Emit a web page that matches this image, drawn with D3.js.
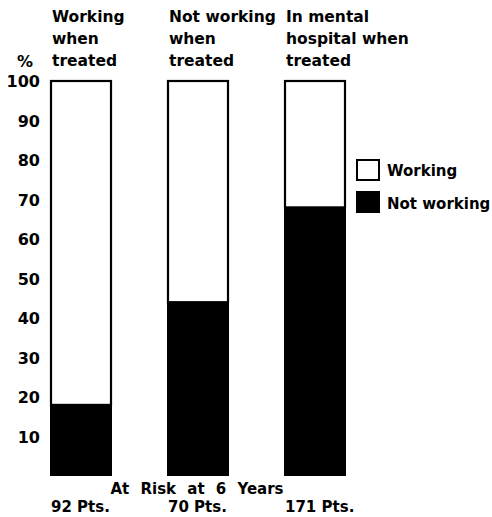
<!DOCTYPE html>
<html><head><meta charset="utf-8">
<script src="https://cdn.jsdelivr.net/npm/d3@7"></script>
<style>body{margin:0;background:#fff}svg{display:block}text{font-family:"DejaVu Sans",sans-serif;font-weight:bold;fill:#000}</style>
</head><body><svg id="c" width="492" height="517"></svg>
<script>
const categories = [["Working","when","treated"],["Not working","when","treated"],["In mental","hospital when","treated"]];
const notWorking = [18, 44, 68];
const working = [82, 56, 32];
const patients = ["92 Pts.", "70 Pts.", "171 Pts."];
const yTicks = [10,20,30,40,50,60,70,80,90,100];
const legendLabels = ["Working","Not working"];

const svg = d3.select("#c");
const y = d3.scaleLinear().domain([0,100]).range([476,81]);
const x = d3.scalePoint().domain([0,1,2]).range([51,285]);
const bw = 60;

const stack = categories.map((c,i)=>({i, nw:notWorking[i], w:working[i]}));
const g = svg.append("g");
stack.forEach(d=>{
  g.append("rect").attr("x",x(d.i)).attr("width",bw)
    .attr("y",y(d.nw+d.w)).attr("height",y(d.nw)-y(d.nw+d.w))
    .attr("fill","#fff").attr("stroke","#000").attr("stroke-width",2.2);
  g.append("rect").attr("x",x(d.i)-1).attr("width",bw+2)
    .attr("y",y(d.nw)).attr("height",y(0)-y(d.nw)).attr("fill","#000");
});

// y axis labels
svg.append("g").selectAll("text").data(yTicks).join("text")
  .attr("x",40).attr("y",d=>y(d)+6).attr("text-anchor","end")
  .attr("font-size",16).text(d=>d);
svg.append("text").attr("x",17).attr("y",67).attr("font-size",16).text("%");

// category labels
categories.forEach((lines,i)=>{
  const t = svg.append("text").attr("font-size",15.5);
  lines.forEach((l,j)=>t.append("tspan").attr("x",x(i)+1).attr("y",22+j*22).text(l));
});

// legend
const leg = svg.append("g");
legendLabels.forEach((l,j)=>{
  leg.append("rect").attr("x",357).attr("y",160+j*32).attr("width",22).attr("height",20)
    .attr("fill",j?"#000":"#fff").attr("stroke","#000").attr("stroke-width",2);
  leg.append("text").attr("x",387).attr("y",176+j*33).attr("font-size",15).text(l);
});

// bottom
svg.append("text").attr("x",197).attr("y",494).attr("text-anchor","middle").attr("font-size",15)
  .attr("word-spacing",6).text("At Risk at 6 Years");
patients.forEach((p,i)=>svg.append("text").attr("x",x(i)).attr("y",512).attr("font-size",15).text(p));
</script></body></html>
